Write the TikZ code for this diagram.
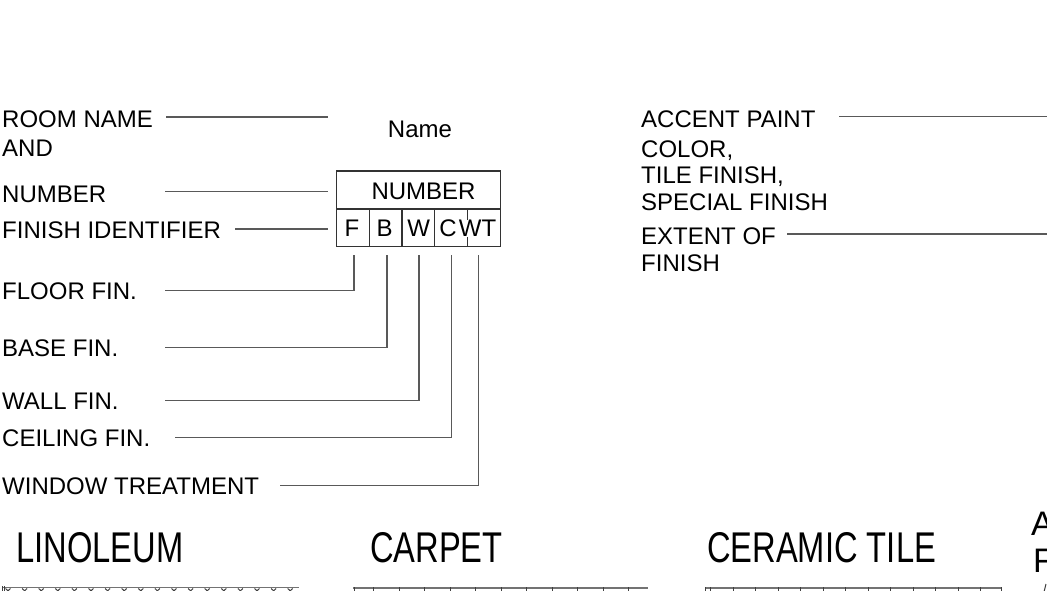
\documentclass[tikz,border=0pt]{standalone}
\usepackage{fontspec}
\setmainfont{Liberation Sans}
\begin{document}
\begin{tikzpicture}[x=1pt,y=-1pt,
  lbl/.style={anchor=base west, inner sep=0pt, font=\fontsize{24}{27}\selectfont},
  lblc/.style={anchor=base, inner sep=0pt, font=\fontsize{24}{27}\selectfont},
  big/.style={anchor=base west, inner sep=0pt, font=\fontsize{43}{47}\selectfont},
  mid/.style={anchor=base west, inner sep=0pt, font=\fontsize{34}{38}\selectfont},
  lead/.style={draw=black!65, line width=1.2pt},
  boxline/.style={draw=black!80, line width=1.4pt},
  swatch/.style={draw=black!55, line width=1.6pt},
  tick/.style={draw=black!75, line width=1pt}]
\useasboundingbox (0,0) rectangle (1047,590);
\clip (0,0) rectangle (1047,590);

% left labels
\node[lbl] (room)  at (2,127)   {ROOM NAME};
\node[lbl] (and)   at (2,156)   {AND};
\node[lbl] (num)   at (2,202)   {NUMBER};
\node[lbl] (fid)   at (2,238)   {FINISH IDENTIFIER};
\node[lbl] (floor) at (2,299.5) {FLOOR FIN.};
\node[lbl] (base)  at (2,356.5) {BASE FIN.};
\node[lbl] (wall)  at (2,409.5) {WALL FIN.};
\node[lbl] (ceil)  at (2,446.5) {CEILING FIN.};
\node[lbl] (win)   at (2,494.5) {WINDOW TREATMENT};

% name and box
\node[lblc] (name) at (420,137) {Name};
\node[boxline, minimum width=164pt, minimum height=75.7pt, inner sep=0pt] (box) at (418.7,208.85) {};
\coordinate (midL) at (336.7,209);
\coordinate (midR) at (500.7,209);
\draw[boxline] (midL) -- (midR);
\coordinate (d1) at (369.3,209);
\coordinate (d2) at (402,209);
\coordinate (d3) at (434.5,209);
\coordinate (d4) at (467.3,209);
\draw[boxline] (d1) -- (d1 |- box.south);
\draw[boxline] (d2) -- (d2 |- box.south);
\draw[boxline] (d3) -- (d3 |- box.south);
\draw[boxline] (d4) -- (d4 |- box.south);
\node[lblc] (numtxt) at (423.5,199) {NUMBER};
\node[lblc] (cF) at (352,236.7) {F};
\node[lblc] (cB) at (384.5,236.7) {B};
\node[lblc] (cW) at (418.7,236.7) {W};
\node[lblc] (cC) at (448,236.7) {C};
\node[lblc, fill=white, inner xsep=0pt] (cWT) at (477.5,236.7) {WT};

% leaders to box
\coordinate (roomA) at (166,117);
\coordinate (roomB) at (328,117);
\draw[lead] (roomA) -- (roomB);
\coordinate (numA) at (165,191.7);
\coordinate (numB) at (328,191.7);
\draw[lead] (numA) -- (numB);
\coordinate (fidA) at (235,229);
\coordinate (fidB) at (328,229);
\draw[lead] (fidA) -- (fidB);

\coordinate (tF) at (354,255);
\coordinate (tB) at (387,255);
\coordinate (tW) at (419,255);
\coordinate (tC) at (451.7,255);
\coordinate (tWT) at (478.3,255);
\coordinate (eF) at (165,290.7);
\coordinate (eB) at (165,347.5);
\coordinate (eW) at (165,400.5);
\coordinate (eC) at (175,437.5);
\coordinate (eWT) at (280,485.5);
\draw[lead] (eF) -| (tF);
\draw[lead] (eB) -| (tB);
\draw[lead] (eW) -| (tW);
\draw[lead] (eC) -| (tC);
\draw[lead] (eWT) -| (tWT);

% right labels
\node[lbl] (acc)  at (641,127)   {ACCENT PAINT};
\node[lbl] (col)  at (641,157)   {COLOR,};
\node[lbl] (tile) at (641,183.3) {TILE FINISH,};
\node[lbl] (spec) at (641,210.5) {SPECIAL FINISH};
\node[lbl] (ext)  at (641,244.3) {EXTENT OF};
\node[lbl] (fin)  at (641,271.7) {FINISH};
\coordinate (accA) at (839,116.7);
\coordinate (accB) at (1047,116.7);
\draw[lead] (accA) -- (accB);
\coordinate (extA) at (787,234);
\coordinate (extB) at (1047,234);
\draw[lead] (extA) -- (extB);

% bottom titles
\node[big] (lino) at (16,562) {\scalebox{0.76}[1]{LINOLEUM}};
\node[big] (carp) at (370,562) {\scalebox{0.76}[1]{CARPET}};
\node[big] (cera) at (707,562) {\scalebox{0.76}[1]{CERAMIC TILE}};
\node[mid] (acA) at (1031,535) {A};
\node[mid] (acF) at (1033,572) {F};

% swatches
\draw[swatch] (2,587.5) -- (299,587.5);
\draw[tick] (2,586) -- (2,592);
\draw[tick] (4.5,586) -- (4.5,592);
\foreach \x in {8,24.6,...,299} {
  \draw[tick] (\x-2.5,588.5) -- (\x+2.5,593);
  \draw[tick] (\x+2.5,588.5) -- (\x-2.5,593);
}
\draw[swatch] (353,588) -- (648,588);
\foreach \x in {354,373.3,399.3,424.8,450.3,475.8,501.3,526.8,552.3,577.8,603.3,628.8} {
  \draw[tick] (\x,587) -- (\x,593);
}
\draw[swatch] (705,588) -- (1001.7,588);
\foreach \x in {705,710.7,733.3,755.8,778.3,800.8,823.3,845.8,868.3,890.8,913.3,935.8,958.3,980.8,1001.7} {
  \draw[tick] (\x,587) -- (\x,593);
}
\draw[tick] (1044,592) -- (1046,584);
\end{tikzpicture}
\end{document}
